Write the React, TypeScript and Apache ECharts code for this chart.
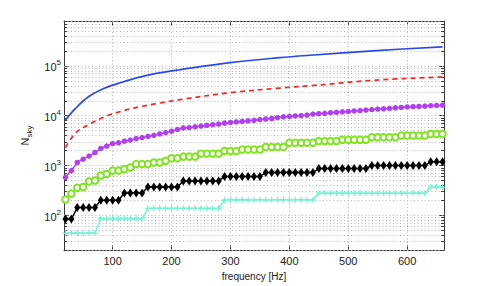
import React, { useEffect, useRef } from "react";
import * as echarts from "echarts";

// frequency grid [Hz] of the marker series
const freq = [20, 30, 40, 50, 60, 70, 80, 90, 100, 110, 120, 130, 140, 150, 160, 170, 180, 190, 200, 210,
  220, 230, 240, 250, 260, 270, 280, 290, 300, 310, 320, 330, 340, 350, 360, 370, 380, 390, 400, 410,
  420, 430, 440, 450, 460, 470, 480, 490, 500, 510, 520, 530, 540, 550, 560, 570, 580, 590, 600, 610,
  620, 630, 640, 650, 660];

// blue solid curve [frequency, N]
const blueCurve = [[20, 8200], [37, 14000], [59, 24000], [87, 36000], [116, 47000], [144, 59000],
  [172, 70000], [214, 84000], [299, 117000], [384, 147000], [435, 164000], [548, 204000], [660, 242000]];

// red dashed curve [frequency, N]
const redCurve = [[20, 2300], [37, 4500], [59, 6600], [87, 9600], [116, 12400], [144, 15000],
  [172, 17300], [214, 21000], [299, 29000], [384, 36000], [435, 40000], [548, 52000], [660, 60000]];

const purple = [580, 790, 1150, 1340, 1550, 1820, 2200, 2460, 2760, 2860, 3090, 3240, 3470, 3650, 3850,
  4050, 4300, 4600, 4900, 5300, 5700, 5800, 6000, 6200, 6400, 6600, 6800, 7100, 7300, 7500, 7700, 7900,
  8100, 8400, 8600, 8800, 9200, 9500, 9700, 9900, 10100, 10300, 10800, 11000, 11200, 11500, 11700, 12000,
  12200, 12500, 12700, 13000, 13300, 13600, 13800, 14100, 14400, 14700, 15000, 15200, 15400, 15600,
  15900, 16100, 16300];

const green = [208, 273, 358, 370, 479, 501, 630, 676, 789, 789, 851, 912, 1070, 1070, 1070, 1150, 1150,
  1245, 1400, 1400, 1510, 1510, 1510, 1730, 1730, 1730, 1730, 1960, 1960, 1960, 2100, 2100, 2100, 2100,
  2350, 2350, 2350, 2350, 2860, 2860, 2860, 2860, 2860, 3100, 3100, 3100, 3100, 3300, 3300, 3300, 3300,
  3300, 3700, 3700, 3700, 3700, 3700, 4000, 4000, 4000, 4000, 4000, 4300, 4300, 4300];

const black = [84, 84, 143, 143, 143, 143, 200, 200, 200, 200, 281, 281, 281, 281, 370, 370, 370, 370,
  370, 370, 490, 490, 490, 490, 490, 490, 490, 603, 603, 603, 603, 603, 603, 603, 720, 720, 720, 720,
  720, 720, 720, 720, 720, 871, 871, 871, 871, 871, 871, 871, 871, 871, 1000, 1000, 1000, 1000, 1000,
  1000, 1000, 1000, 1000, 1000, 1190, 1190, 1190];

const cyan = [44, 44, 44, 44, 44, 44, 85, 85, 85, 85, 85, 85, 85, 85, 138, 138, 138, 138, 138, 138, 138,
  138, 138, 138, 138, 138, 138, 205, 205, 205, 205, 205, 205, 205, 205, 205, 205, 205, 205, 205, 205,
  205, 205, 278, 278, 278, 278, 278, 278, 278, 278, 278, 278, 278, 278, 278, 278, 278, 278, 278, 278,
  278, 370, 370, 370];

const xTicks = [100, 200, 300, 400, 500, 600];
const X_MIN = 17.5;
const X_MAX = 662.5;
const Y_MIN = 20;
const Y_MAX = 800000;

const AXIS_COLOR = "#3a3a3a";
const GRID_COLOR = "#b4b4b4";
const FONT = "Liberation Sans, Arial, Helvetica, sans-serif";

function logGridValues(): number[] {
  const out: number[] = [];
  for (let e = 1; e <= 5; e++) {
    for (let m = 1; m <= 9; m++) {
      const v = m * Math.pow(10, e);
      if (v >= Y_MIN && v <= Y_MAX) out.push(v);
    }
  }
  return out;
}

function isPow10(v: number) {
  const l = Math.log10(v);
  return Math.abs(l - Math.round(l)) < 1e-6;
}

export default function App() {
  const ref = useRef<HTMLDivElement>(null);
  useEffect(() => {
    if (!ref.current) return;
    const chart = echarts.init(ref.current, undefined, { renderer: "svg" });
    const gridVals = logGridValues();
    const minorVals = gridVals.filter((v) => !isPow10(v));
    const tickLenX = 5.0; // Hz, about 3px
    const minorTickData: any[] = [];
    minorVals.forEach((v) => {
      minorTickData.push([{ coord: [X_MIN, v] }, { coord: [X_MIN + tickLenX, v] }]);
      minorTickData.push([{ coord: [X_MAX - tickLenX, v] }, { coord: [X_MAX, v] }]);
    });

    const plusPath = "path://M3,0h1.6v3h3v1.6h-3v3h-1.6v-3h-3v-1.6h3z";

    const yLabelFmt = (v: number) => {
      if (!isPow10(v)) return "";
      return "{b|10}{s|" + Math.round(Math.log10(v)) + "}";
    };

    const option: any = {
      animation: false,
      backgroundColor: "#ffffff",
      textStyle: { fontFamily: FONT },
      grid: { left: 64, right: 47, top: 21, bottom: 32, containLabel: false },
      xAxis: [
        {
          type: "value",
          min: X_MIN,
          max: X_MAX,
          splitNumber: 6,
          position: "bottom",
          name: "frequency [Hz]",
          nameLocation: "middle",
          nameGap: 15,
          nameTextStyle: { fontSize: 10, color: "#222", fontFamily: FONT, verticalAlign: "top" },
          axisLine: { show: true, lineStyle: { color: AXIS_COLOR, width: 1 } },
          axisTick: { show: true, inside: true, length: 5, lineStyle: { color: AXIS_COLOR } },
          axisLabel: {
            show: true,
            margin: 5,
            fontSize: 11,
            color: "#222",
            fontFamily: FONT,
            formatter: (v: number) => (xTicks.indexOf(Math.round(v)) >= 0 && Math.abs(v - Math.round(v)) < 1e-6 ? String(Math.round(v)) : ""),
          },
          splitLine: { show: false },
        },
        {
          type: "value",
          min: X_MIN,
          max: X_MAX,
          splitNumber: 6,
          position: "top",
          axisLine: { show: true, lineStyle: { color: AXIS_COLOR, width: 1 } },
          axisTick: { show: true, inside: true, length: 5, lineStyle: { color: AXIS_COLOR } },
          axisLabel: { show: false },
          splitLine: { show: false },
        },
      ],
      yAxis: [
        {
          type: "log",
          logBase: 10,
          min: Y_MIN,
          max: Y_MAX,
          position: "left",
          name: "{n|N}{s|sky}",
          nameLocation: "middle",
          nameGap: 26,
          nameRotate: 90,
          nameTextStyle: {
            fontFamily: FONT,
            rich: {
              n: { fontSize: 11, color: "#222", fontFamily: FONT, lineHeight: 14, verticalAlign: "top" },
              s: { fontSize: 8, color: "#222", fontFamily: FONT, lineHeight: 8, verticalAlign: "bottom" },
            },
          },
          axisLine: { show: true, lineStyle: { color: AXIS_COLOR, width: 1 } },
          axisTick: { show: true, inside: true, length: 5, lineStyle: { color: AXIS_COLOR } },
          axisLabel: {
            show: true,
            margin: 3,
            formatter: yLabelFmt,
            rich: {
              b: { fontSize: 11, color: "#222", fontFamily: FONT, lineHeight: 14, verticalAlign: "bottom", padding: [4, 0, 0, 0] },
              s: { fontSize: 8, color: "#222", fontFamily: FONT, lineHeight: 9, verticalAlign: "top" },
            },
          },
          splitLine: { show: false },
        },
        {
          type: "log",
          logBase: 10,
          min: Y_MIN,
          max: Y_MAX,
          position: "right",
          axisLine: { show: true, lineStyle: { color: AXIS_COLOR, width: 1 } },
          axisTick: { show: true, inside: true, length: 5, lineStyle: { color: AXIS_COLOR } },
          axisLabel: { show: false },
          splitLine: { show: false },
        },
      ],
      series: [
        {
          name: "grid",
          type: "line",
          data: [],
          z: 1,
          silent: true,
          markLine: {
            silent: true,
            z: 1,
            animation: false,
            symbol: ["none", "none"],
            label: { show: false },
            lineStyle: { color: GRID_COLOR, type: [1, 2.5], width: 1 },
            data: [
              ...gridVals.map((v) => ({ yAxis: v })),
              ...xTicks.map((v) => ({ xAxis: v })),
            ],
          },
        },
        {
          name: "minorTicks",
          type: "line",
          data: [],
          z: 1,
          silent: true,
          markLine: {
            silent: true,
            z: 2,
            animation: false,
            symbol: ["none", "none"],
            label: { show: false },
            lineStyle: { color: AXIS_COLOR, type: "solid", width: 1 },
            data: minorTickData,
          },
        },
        {
          name: "blue",
          type: "line",
          z: 5,
          data: blueCurve,
          showSymbol: false,
          symbol: "none",
          smooth: 0.35,
          lineStyle: { color: "#2a48f0", width: 1.7 },
        },
        {
          name: "red",
          type: "line",
          z: 5,
          data: redCurve,
          symbol: "none",
          smooth: 0.35,
          lineStyle: { color: "#ff2222", width: 1.7, type: [5, 4] },
        },
        {
          name: "purple",
          type: "line",
          z: 5,
          data: freq.map((f, i) => [f, purple[i]]),
          symbol: "circle",
          symbolSize: 5.5,
          itemStyle: { color: "#b13ff2" },
          lineStyle: { color: "#b13ff2", width: 1.5 },
        },
        {
          name: "green",
          type: "line",
          z: 5,
          data: freq.map((f, i) => [f, green[i]]),
          symbol: "emptyCircle",
          symbolSize: 6.5,
          itemStyle: { color: "#7ee51e", borderColor: "#7ee51e", borderWidth: 1.5 },
          lineStyle: { color: "#7ee51e", width: 1.5 },
        },
        {
          name: "black",
          type: "line",
          z: 5,
          data: freq.map((f, i) => [f, black[i]]),
          symbol: "diamond",
          symbolSize: [6, 9],
          itemStyle: { color: "#000000" },
          lineStyle: { color: "#000000", width: 1.5 },
        },
        {
          name: "cyan",
          type: "line",
          z: 5,
          data: freq.map((f, i) => [f, cyan[i]]),
          symbol: plusPath,
          symbolSize: 6,
          itemStyle: { color: "#72f2d6" },
          lineStyle: { color: "#72f2d6", width: 1.5 },
        },
      ],
    };
    chart.setOption(option);
    return () => chart.dispose();
  }, []);
  return (
    <div
      ref={ref}
      style={{ position: "fixed", left: 0, top: 0, width: 491, height: 286, background: "#fff" }}
    />
  );
}
